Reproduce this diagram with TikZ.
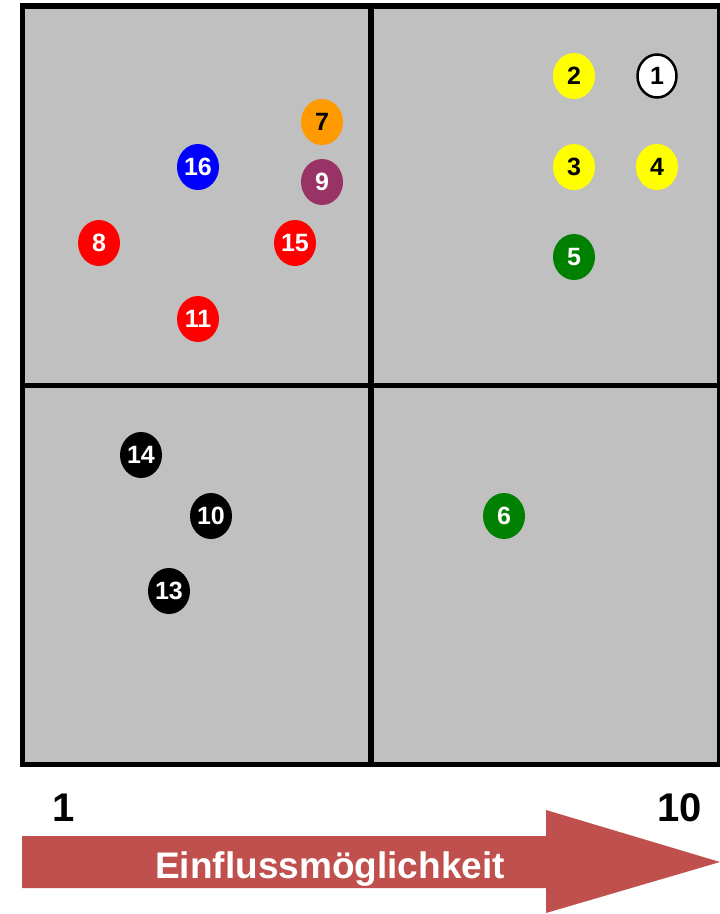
\documentclass[tikz,border=0pt]{standalone}
\usepackage{fontspec}
\setmainfont{Liberation Sans}
\usepackage{tikz}
\usetikzlibrary{shapes.geometric, positioning}
\definecolor{panel}{RGB}{192, 192, 192}
\definecolor{yellow}{RGB}{255, 255, 0}
\definecolor{green}{RGB}{0, 128, 0}
\definecolor{orange}{RGB}{255, 153, 0}
\definecolor{plum}{RGB}{153, 51, 102}
\definecolor{red}{RGB}{255, 0, 0}
\definecolor{blue}{RGB}{0, 0, 255}
\definecolor{arrowred}{RGB}{192, 80, 77}

\begin{document}
\begin{tikzpicture}[
  x=1pt, y=-1pt,
  dot/.style={ellipse, minimum width=42, minimum height=46, inner sep=0pt,
              font=\fontsize{25}{30}\selectfont\bfseries, text=white},
  yellowdot/.style={dot, fill=yellow, text=black},
  whitedot/.style={dot, fill=white, draw=black, line width=2.5pt, text=black,
                   minimum width=39, minimum height=43},
  greendot/.style={dot, fill=green},
  orangedot/.style={dot, fill=orange, text=black},
  plumdot/.style={dot, fill=plum},
  reddot/.style={dot, fill=red},
  bluedot/.style={dot, fill=blue},
  blackdot/.style={dot, fill=black},
  gridline/.style={line width=5.5pt},
  ticklabel/.style={font=\fontsize{40}{48}\selectfont\bfseries, anchor=base},
]
\useasboundingbox (0,0) rectangle (720,914);

% Matrix panel
\fill[panel] (22.5,6) rectangle (720,764.5);
\draw[gridline] (371,6) -- (371,764.5);
\draw[gridline] (22.5,385.5) -- (720,385.5);
\draw[gridline] (22.5,6) rectangle (720,764.5);

% Upper right
\node[whitedot]  (n1) at (657,76)  {1};
\node[yellowdot] (n2) at (574,76)  {2};
\node[yellowdot] (n3) at (574,167) {3};
\node[yellowdot] (n4) at (657,167) {4};
\node[greendot]  (n5) at (574,257) {5};

% Lower right
\node[greendot]  (n6) at (504,516) {6};

% Upper left
\node[orangedot] (n7)  at (322,122) {7};
\node[plumdot]   (n9)  at (322,182) {9};
\node[bluedot]   (n16) at (198,167) {16};
\node[reddot]    (n8)  at (99,243)  {8};
\node[reddot]    (n15) at (295,243) {15};
\node[reddot]    (n11) at (198,319) {11};

% Lower left
\node[blackdot]  (n14) at (141,455) {14};
\node[blackdot]  (n10) at (211,516) {10};
\node[blackdot]  (n13) at (169,591) {13};

% Scale
\node[ticklabel] (lo) at (64,821)  {1};
\node[ticklabel] (hi) at (680,821) {10};

% Arrow
\fill[arrowred] (22,836) -- (546,836) -- (546,810) -- (720,862)
  -- (546,913) -- (546,888) -- (22,888) -- cycle;
\node[font=\fontsize{37}{44}\selectfont\bfseries, text=white, anchor=base]
  (axis) at (330,878) {Einflussmöglichkeit};

\end{tikzpicture}
\end{document}
